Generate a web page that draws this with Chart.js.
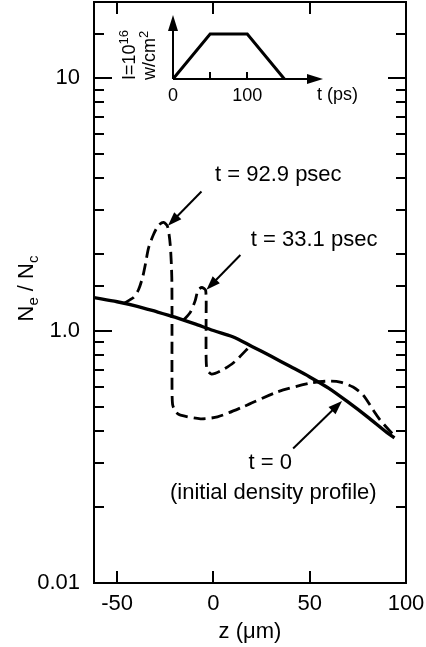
<!DOCTYPE html>
<html>
<head>
<meta charset="utf-8">
<script src="https://cdn.jsdelivr.net/npm/chart.js@4.4.1/dist/chart.umd.min.js"></script>
<style>
  html, body { margin: 0; padding: 0; background: #fff; }
  #wrap { position: relative; width: 426px; height: 647px; }
  #main { position: absolute; left: 0; top: 0; }
  #inset { position: absolute; left: 100px; top: 0; }
</style>
</head>
<body>
<div id="wrap">
  <canvas id="main" width="426" height="647"></canvas>
  <canvas id="inset" width="300" height="120"></canvas>
</div>
<script>
  /* ── data ── */
  // t = 0 (initial density profile)
  var zInitial = [-62, -50, -40, -30, -20, -10, 0, 10, 20, 30, 40, 50, 60, 70, 80, 90, 94];
  var nInitial = [1.35, 1.30, 1.25, 1.19, 1.13, 1.065, 1.0, 0.945, 0.865, 0.79, 0.72, 0.655, 0.59, 0.52, 0.455, 0.395, 0.376];

  // t = 33.1 psec
  var z331 = [-15.5, -12, -9.5, -7.9, -5.9, -4.0, -3.8, -3.8, -3.3, -1.0, 3.5, 10.4, 19.2];
  var n331 = [1.10, 1.18, 1.31, 1.45, 1.48, 1.44, 1.1, 0.80, 0.70, 0.672, 0.69, 0.745, 0.87];

  // t = 92.9 psec
  var z929 = [-46.6, -41.5, -38.9, -36.8, -35.2, -33.7, -31.1, -28.5, -25.9, -23.8, -22.4, -21.6, -21.5, -21.5, -21.2,
              -19.5, -17.1, -6.7, 2.1, 15.5, 33.2, 50.3, 59.1, 65.8, 72.5, 77.7, 82.9, 86.5, 93.3];
  var n929 = [1.28, 1.35, 1.45, 1.62, 1.85, 2.12, 2.40, 2.61, 2.68, 2.58, 2.18, 1.62, 1.0, 0.65, 0.51,
              0.475, 0.462, 0.447, 0.455, 0.499, 0.571, 0.619, 0.630, 0.625, 0.597, 0.556, 0.485, 0.443, 0.387];

  // inset: laser pulse, intensity vs time
  var pulseT = [0, 50, 100, 150];
  var pulseI = [0, 1, 1, 0];

  var xTicks = [-50, 0, 50, 100];
  var yLabels = { '10': '10', '1': '1.0', '0.1': '0.01' };

  /* ── annotations (data coordinates) ── */
  var notes = [
    { text: 't = 92.9 psec', x: 33.7, y: 4.14 },
    { text: 't = 33.1 psec', x: 52.3, y: 2.28 },
    { text: 't = 0', x: 29.5, y: 0.298 },
    { text: '(initial density profile)', x: 31.1, y: 0.227 }
  ];
  var arrowFrom = [[-6.2, 3.55], [14.0, 1.99], [41.4, 0.341]];
  var arrowTo = [[-23.6, 2.6], [-3.6, 1.45], [66.8, 0.526]];

  var FONT = "'Liberation Sans', Arial, Helvetica, sans-serif";

  function toPoints(xs, ys) {
    return xs.map(function (x, i) { return { x: x, y: ys[i] }; });
  }

  function near(a, b) { return Math.abs(a - b) < 1e-6 * Math.max(1, b); }

  function drawArrowHead(ctx, x1, y1, x2, y2, len, half) {
    var ang = Math.atan2(y2 - y1, x2 - x1);
    ctx.beginPath();
    ctx.moveTo(x2, y2);
    ctx.lineTo(x2 - len * Math.cos(ang) + half * Math.sin(ang), y2 - len * Math.sin(ang) - half * Math.cos(ang));
    ctx.lineTo(x2 - len * Math.cos(ang) - half * Math.sin(ang), y2 - len * Math.sin(ang) + half * Math.cos(ang));
    ctx.closePath();
    ctx.fill();
  }

  /* ── frame with inward ticks on all four sides ── */
  var frameTicks = {
    id: 'frameTicks',
    afterDatasetsDraw: function (chart) {
      var ctx = chart.ctx, a = chart.chartArea;
      var xs = chart.scales.x, ys = chart.scales.y;
      ctx.save();
      ctx.strokeStyle = '#000';
      ctx.lineWidth = 2;
      ctx.strokeRect(a.left, a.top, a.right - a.left, a.bottom - a.top);

      xs.ticks.forEach(function (t) {
        if (t.value <= xs.min || t.value >= xs.max) return;
        var px = Math.round(xs.getPixelForValue(t.value));
        ctx.beginPath();
        ctx.moveTo(px, a.bottom); ctx.lineTo(px, a.bottom - 12);
        ctx.moveTo(px, a.top); ctx.lineTo(px, a.top + 12);
        ctx.stroke();
      });

      ys.ticks.forEach(function (t) {
        if (t.value <= ys.min || t.value >= ys.max) return;
        var py = Math.round(ys.getPixelForValue(t.value));
        var major = near(t.value, 1) || near(t.value, 10);
        var len = major ? 18 : 10;
        ctx.beginPath();
        ctx.moveTo(a.left, py); ctx.lineTo(a.left + len, py);
        ctx.moveTo(a.right, py); ctx.lineTo(a.right - len, py);
        ctx.stroke();
      });
      ctx.restore();
    }
  };

  /* ── rotated y title with subscripts ── */
  var yTitle = {
    id: 'yTitle',
    afterDraw: function (chart) {
      var ctx = chart.ctx, a = chart.chartArea;
      var parts = [['N', 0], ['e', 1], [' / N', 0], ['c', 1]];
      ctx.save();
      ctx.fillStyle = '#000';
      ctx.textBaseline = 'alphabetic';
      var total = 0;
      parts.forEach(function (p) {
        ctx.font = (p[1] ? '15px ' : '22px ') + FONT;
        total += ctx.measureText(p[0]).width;
      });
      ctx.translate(33, (a.top + a.bottom) / 2 - 4);
      ctx.rotate(-Math.PI / 2);
      var u = -total / 2;
      parts.forEach(function (p) {
        ctx.font = (p[1] ? '15px ' : '22px ') + FONT;
        ctx.fillText(p[0], u, p[1] ? 5 : 0);
        u += ctx.measureText(p[0]).width;
      });
      ctx.restore();
    }
  };

  /* ── labels and arrows ── */
  var notesPlugin = {
    id: 'notes',
    afterDraw: function (chart) {
      var ctx = chart.ctx, xs = chart.scales.x, ys = chart.scales.y;
      ctx.save();
      ctx.fillStyle = '#000';
      ctx.strokeStyle = '#000';
      ctx.font = '22px ' + FONT;
      ctx.textAlign = 'center';
      ctx.textBaseline = 'middle';
      notes.forEach(function (n) {
        ctx.fillText(n.text, xs.getPixelForValue(n.x), ys.getPixelForValue(n.y));
      });
      ctx.lineWidth = 2;
      arrowFrom.forEach(function (f, i) {
        var x1 = xs.getPixelForValue(f[0]), y1 = ys.getPixelForValue(f[1]);
        var x2 = xs.getPixelForValue(arrowTo[i][0]), y2 = ys.getPixelForValue(arrowTo[i][1]);
        var ang = Math.atan2(y2 - y1, x2 - x1);
        ctx.beginPath();
        ctx.moveTo(x1, y1);
        ctx.lineTo(x2 - 8 * Math.cos(ang), y2 - 8 * Math.sin(ang));
        ctx.stroke();
        drawArrowHead(ctx, x1, y1, x2, y2, 14, 5);
      });
      ctx.restore();
    }
  };

  var dashStyle = { borderColor: '#000', borderWidth: 2.8, borderDash: [12, 6] };

  new Chart(document.getElementById('main'), {
    type: 'scatter',
    data: {
      datasets: [
        {
          data: toPoints(zInitial, nInitial),
          showLine: true,
          borderColor: '#000',
          borderWidth: 3.4,
          pointRadius: 0,
          tension: 0.3
        },
        Object.assign({
          data: toPoints(z331, n331),
          showLine: true,
          pointRadius: 0,
          tension: 0.25
        }, dashStyle),
        Object.assign({
          data: toPoints(z929, n929),
          showLine: true,
          pointRadius: 0,
          tension: 0.25
        }, dashStyle)
      ]
    },
    options: {
      responsive: false,
      animation: false,
      devicePixelRatio: 1,
      layout: { padding: { top: 2, right: 20, left: 0, bottom: 0 } },
      plugins: { legend: { display: false }, tooltip: { enabled: false } },
      scales: {
        x: {
          type: 'linear',
          min: -62,
          max: 100,
          grid: { display: false, drawTicks: false },
          border: { display: false },
          afterBuildTicks: function (s) {
            s.ticks = xTicks.map(function (v) { return { value: v }; });
          },
          ticks: {
            color: '#000',
            font: { family: FONT, size: 22 },
            padding: 8,
            maxRotation: 0,
            autoSkip: false
          },
          title: {
            display: true,
            text: 'z (\u03bcm)',
            color: '#000',
            font: { family: FONT, size: 22 },
            padding: { top: 0, bottom: 2 }
          },
          afterFit: function (s) {
            s.height = 64;
            s.paddingLeft = 0;
            s.paddingRight = 0;
          }
        },
        y: {
          type: 'logarithmic',
          min: 0.1,
          max: 20,
          grid: { display: false, drawTicks: false },
          border: { display: false },
          ticks: {
            color: '#000',
            font: { family: FONT, size: 22 },
            padding: 14,
            autoSkip: false,
            callback: function (v) {
              for (var k in yLabels) {
                if (near(v, parseFloat(k))) return yLabels[k];
              }
              return '';
            }
          },
          afterFit: function (s) {
            s.width = 94;
            s.paddingTop = 0;
            s.paddingBottom = 0;
          }
        }
      }
    },
    plugins: [frameTicks, yTitle, notesPlugin]
  });

  /* ── inset: pulse shape with arrowed axes ── */
  var insetAxes = {
    id: 'insetAxes',
    afterDraw: function (chart) {
      var ctx = chart.ctx, a = chart.chartArea;
      var xs = chart.scales.x;
      ctx.save();
      ctx.strokeStyle = '#000';
      ctx.fillStyle = '#000';
      ctx.lineWidth = 2;
      ctx.beginPath();
      ctx.moveTo(a.left, a.bottom); ctx.lineTo(a.right - 8, a.bottom);
      ctx.moveTo(a.left, a.bottom); ctx.lineTo(a.left, a.top + 8);
      [50, 100].forEach(function (v) {
        var px = Math.round(xs.getPixelForValue(v));
        ctx.moveTo(px, a.bottom); ctx.lineTo(px, a.bottom - 7);
      });
      ctx.stroke();
      drawArrowHead(ctx, a.left, a.bottom, a.right, a.bottom, 16, 5);
      drawArrowHead(ctx, a.left, a.bottom, a.left, a.top, 16, 5);

      ctx.font = '18px ' + FONT;
      ctx.textAlign = 'center';
      ctx.textBaseline = 'middle';
      ctx.fillText('0', xs.getPixelForValue(0), a.bottom + 17);
      ctx.fillText('100', xs.getPixelForValue(100), a.bottom + 17);
      ctx.textAlign = 'left';
      ctx.fillText('t (ps)', a.right - 6, a.bottom + 16);

      // rotated intensity label
      ctx.textAlign = 'left';
      ctx.textBaseline = 'alphabetic';
      var lines = [
        { x: a.left - 38, parts: [['I=10', 0], ['16', 1]] },
        { x: a.left - 18, parts: [['w/cm', 0], ['2', 1]] }
      ];
      lines.forEach(function (ln) {
        ctx.save();
        ctx.translate(ln.x, a.bottom + 1);
        ctx.rotate(-Math.PI / 2);
        var u = 0;
        ln.parts.forEach(function (p) {
          ctx.font = (p[1] ? '13px ' : '18px ') + FONT;
          ctx.fillText(p[0], u, p[1] ? -7 : 0);
          u += ctx.measureText(p[0]).width;
        });
        ctx.restore();
      });
      ctx.restore();
    }
  };

  new Chart(document.getElementById('inset'), {
    type: 'scatter',
    data: {
      datasets: [{
        data: toPoints(pulseT, pulseI),
        showLine: true,
        borderColor: '#000',
        borderWidth: 3,
        pointRadius: 0,
        tension: 0,
        clip: false
      }]
    },
    options: {
      responsive: false,
      animation: false,
      devicePixelRatio: 1,
      layout: { padding: { left: 73, right: 77, top: 15, bottom: 41 } },
      plugins: { legend: { display: false }, tooltip: { enabled: false } },
      scales: {
        x: { type: 'linear', min: 0, max: 202, display: false },
        y: { type: 'linear', min: 0, max: 1.42, display: false }
      }
    },
    plugins: [insetAxes]
  });
</script>
</body>
</html>
